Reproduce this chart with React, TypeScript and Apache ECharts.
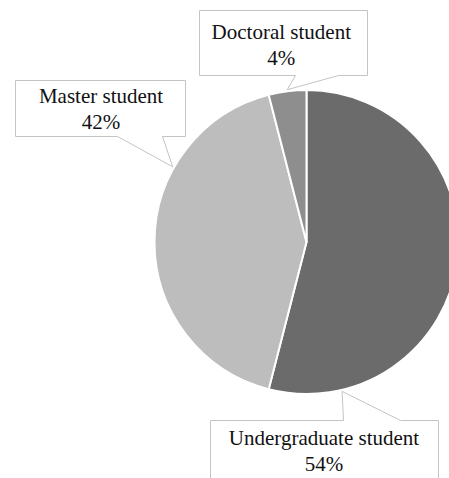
import React, { useEffect, useRef } from "react";
import * as echarts from "echarts";

// Student composition by study level
const categories = ["Undergraduate student", "Master student", "Doctoral student"];
const shares = [54, 42, 4];
const sliceColors = ["#6b6b6b", "#bdbdbd", "#8e8e8e"];

// Callout layout: box [left, top, right, bottom], tail base span and side,
// where along each slice the tail points (0..1), and label text centre.
const calloutBoxes = [
  [210, 420, 438, 492],
  [15, 80, 185, 136],
  [199, 10, 367, 75],
];
const tailBases: [number, number, "top" | "bottom"][] = [
  [343, 400, "top"],
  [117, 162, "bottom"],
  [295, 338, "bottom"],
];
const tailAnchors = [0.857, 0.694, 0.5];
const labelCenters = [
  [324, 451],
  [101, 108.7],
  [281.3, 44.6],
];

const PIE_CX = 306.5;
const PIE_CY = 242;
const PIE_R = 152;

function tailTip(i: number): [number, number] {
  const total = shares.reduce((a, b) => a + b, 0);
  const before = shares.slice(0, i).reduce((a, b) => a + b, 0);
  const start = (before / total) * 360;
  const span = (shares[i] / total) * 360;
  const deg = start + tailAnchors[i] * span;
  const rad = (deg * Math.PI) / 180;
  const r = PIE_R * 1.01;
  return [PIE_CX + r * Math.sin(rad), PIE_CY - r * Math.cos(rad)];
}

function calloutPoints(i: number): number[][] {
  const [x0, y0, x1, y1] = calloutBoxes[i].map((v) => v + 0.5);
  const [a, b, side] = tailBases[i];
  const xa = a + 0.5;
  const xb = b + 0.5;
  const tip = tailTip(i);
  if (side === "top") {
    return [[x0, y0], [xa, y0], tip, [xb, y0], [x1, y0], [x1, y1], [x0, y1]];
  }
  return [[x0, y0], [x1, y0], [x1, y1], [xb, y1], tip, [xa, y1], [x0, y1]];
}

export default function App() {
  const ref = useRef<HTMLDivElement>(null);

  useEffect(() => {
    if (!ref.current) return;
    const chart = echarts.init(ref.current, undefined, { renderer: "svg" });

    const callouts = categories.map((_, i) => ({
      type: "polygon",
      z: 0,
      shape: { points: calloutPoints(i) },
      style: { fill: "#ffffff", stroke: "#c4c4c4", lineWidth: 1 },
      silent: true,
    }));

    chart.setOption({
      animation: false,
      backgroundColor: "#ffffff",
      graphic: callouts,
      series: [
        {
          type: "pie",
          z: 2,
          center: [PIE_CX, PIE_CY],
          radius: PIE_R,
          startAngle: 90,
          clockwise: true,
          percentPrecision: 0,
          avoidLabelOverlap: false,
          itemStyle: { borderColor: "#ffffff", borderWidth: 2 },
          emphasis: { disabled: true },
          label: {
            show: true,
            position: "outside",
            formatter: "{b}\n{d}%",
            fontFamily: "'Liberation Serif', 'Times New Roman', serif",
            fontSize: 21,
            lineHeight: 26,
            color: "#111111",
            align: "center",
          },
          labelLine: { show: false },
          labelLayout: (params: any) => ({
            x: labelCenters[params.dataIndex][0],
            y: labelCenters[params.dataIndex][1],
            align: "center",
            verticalAlign: "middle",
          }),
          data: categories.map((name, i) => ({
            name,
            value: shares[i],
            itemStyle: { color: sliceColors[i] },
          })),
        },
      ],
    });

    return () => chart.dispose();
  }, []);

  return (
    <div
      ref={ref}
      style={{ position: "absolute", left: 0, top: 0, width: 449, height: 478 }}
    />
  );
}
